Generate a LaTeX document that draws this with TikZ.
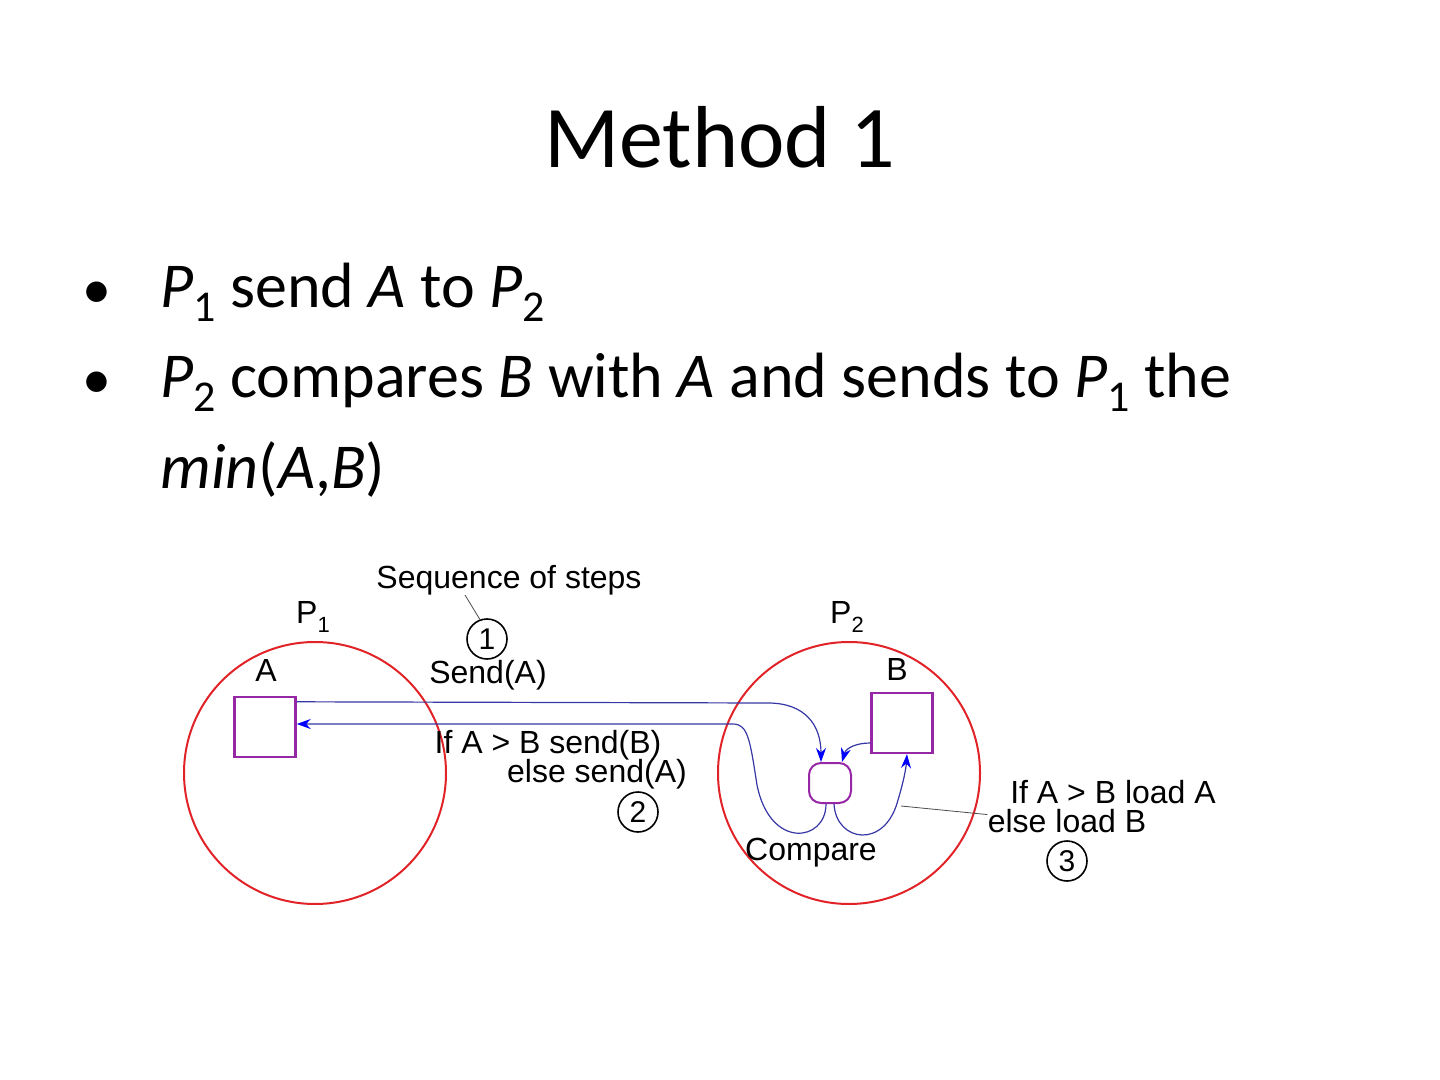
\documentclass[tikz,border=0pt]{standalone}
\usepackage{fontspec}
\setmainfont{Carlito}
\newfontfamily\diagrama{Liberation Sans}
\usetikzlibrary{arrows.meta}

\definecolor{rojo}{RGB}{225,35,40}
\definecolor{morado}{RGB}{150,40,165}
\definecolor{azul}{RGB}{55,55,165}

% P con subindice (texto del cuerpo y del diagrama)
\newcommand{\Pn}[1]{\textit{P\/}\raisebox{-7pt}{\fontsize{22}{22}\selectfont #1}}
\newcommand{\Pd}[1]{P\raisebox{-0.55ex}{\fontsize{11}{11}\selectfont #1}}

\tikzset{
  proceso/.style={circle, draw=rojo, line width=1pt, minimum size=131pt, inner sep=0pt},
  registro/.style={rectangle, draw=morado, line width=1.2pt, minimum width=30.5pt, minimum height=30pt, inner sep=0pt},
  comparador/.style={rectangle, rounded corners=6pt, draw=morado, line width=1pt, minimum width=21pt, minimum height=20pt, inner sep=0pt},
  envio/.style={draw=azul, line width=0.6pt},
  paso/.style={circle, draw, line width=0.8pt, minimum size=20pt, inner sep=0pt, font=\diagrama\fontsize{15}{15}\selectfont},
  etiqueta/.style={font=\diagrama\fontsize{16}{16}\selectfont, inner sep=0pt, anchor=base},
  cuerpo/.style={font=\fontsize{32}{38}\selectfont, inner sep=0pt, anchor=base west},
}

\begin{document}
\begin{tikzpicture}[x=0.5pt, y=-0.5pt, >={Stealth[length=7pt,width=5pt,color=blue]}]

  \useasboundingbox (0,0) rectangle (1440,1080);

  % --- Titulo ---
  \node[anchor=base, inner sep=0pt, font=\fontsize{44}{52}\selectfont] (titulo) at (720,168) {Method 1};

  % --- Vinetas ---
  \foreach \y/\nombre in {295/v1, 385/v2}
    \node[inner sep=0pt, font=\fontsize{29}{29}\selectfont] (\nombre) at (97,\y) {•};
  \node[cuerpo] (l1) at (160,308) {\Pn{1} send \textit{A} to \Pn{2}};
  \node[cuerpo] (l2) at (160,398) {\Pn{2} compares \textit{B} with \textit{A} and sends to \Pn{1} the};
  \node[cuerpo] (l3) at (160,488) {\textit{min}(\textit{A},\textit{B})};

  % --- Procesadores ---
  \node[proceso] (p1) at (315,773) {};
  \node[proceso] (p2) at (849,773) {};
  \node[etiqueta] (np1) at (313,623) {\Pd{1}};
  \node[etiqueta] (np2) at (847,623) {\Pd{2}};

  % --- Registros ---
  \node[registro] (a) at (265,727) {};
  \node[registro] (b) at (902,723) {};
  \node[etiqueta] (na) at (266,681) {A};
  \node[etiqueta] (nb) at (897,680) {B};

  % --- Comparador ---
  \node[comparador] (cmp) at (830,783) {};
  \node[etiqueta] (ncmp) at (811,860) {Compare};

  % --- Envios entre procesadores ---
  \draw[envio, ->] ([yshift=-3pt]a.north east) -- (768,703)
    .. controls (805,703) and (821,725) .. ([xshift=-4.5pt]cmp.north);
  \draw[envio, ->] ([xshift=-2pt]cmp.south) .. controls (826,842) and (770,850) .. (757,785)
    .. controls (750,740) and (748,724) .. (733,724) -- ([yshift=1.5pt]a.east);

  % --- Carga local en P2 ---
  \draw[envio, ->] ([xshift=2pt]cmp.south) .. controls (836,842) and (885,850) .. (898,800)
    .. controls (904,780) and (906,768) .. ([xshift=2.5pt]b.south);
  \draw[envio, ->] ([yshift=-10pt]b.west) .. controls (856,743) and (846,748) .. ([xshift=6pt]cmp.north);

  % --- Pasos numerados ---
  \node[etiqueta] (seq) at (509,588) {Sequence of steps};
  \node[paso] (paso1) at (487,639) {1};
  \node[etiqueta] (send) at (488,683) {Send(A)};
  \draw[line width=0.4pt, black!70] ([xshift=-22pt]seq.south) -- (paso1.110);

  \node[etiqueta] (si2) at (548,753) {If A > B send(B)};
  \node[etiqueta] (sino2) at (597,782) {else send(A)};
  \node[paso] (paso2) at (638,812) {2};

  \node[etiqueta] (si3) at (1113,803) {If A > B load A};
  \node[etiqueta] (sino3) at (1067,832) {else load B};
  \node[paso] (paso3) at (1067,861) {3};
  \coordinate (toque) at (901,806);
  \draw[line width=0.4pt, black!70] ([yshift=3pt]sino3.west) -- (toque);

\end{tikzpicture}
\end{document}
